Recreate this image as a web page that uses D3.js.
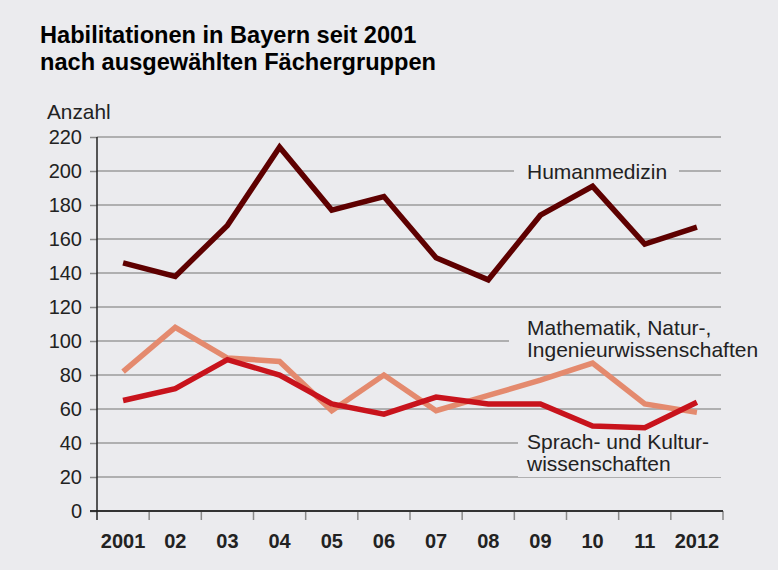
<!DOCTYPE html>
<html>
<head>
<meta charset="utf-8">
<script src="https://cdn.jsdelivr.net/npm/d3@7/dist/d3.min.js"></script>
<style>
  body { margin: 0; background: #ebebee; }
  svg { display: block; font-family: "Liberation Sans", Arial, sans-serif; }
</style>
</head>
<body>
<svg width="778" height="570"></svg>
<script>
// data
var years = ["2001", "02", "03", "04", "05", "06", "07", "08", "09", "10", "11", "2012"];
var humanmedizin = [146, 138, 168, 214, 177, 185, 149, 136, 174, 191, 157, 167];
var mathNatur = [82, 108, 90, 88, 59, 80, 59, 68, 77, 87, 63, 58];
var sprachKultur = [65, 72, 89, 80, 63, 57, 67, 63, 63, 50, 49, 64];
var yTicks = [0, 20, 40, 60, 80, 100, 120, 140, 160, 180, 200, 220];

var svg = d3.select("svg");
var bg = "#ebebee";

svg.append("rect").attr("width", 778).attr("height", 570).attr("fill", bg);

// title
var title = svg.append("text")
    .attr("x", 40).attr("y", 43)
    .style("font-size", "23.6px").style("font-weight", "bold").attr("fill", "#000");
title.append("tspan").attr("x", 40).text("Habilitationen in Bayern seit 2001");
title.append("tspan").attr("x", 40).attr("dy", 27).text("nach ausgewählten Fächergruppen");

svg.append("text").attr("x", 47).attr("y", 119)
    .style("font-size", "20.8px").attr("fill", "#222").text("Anzahl");

// scales
var x = d3.scaleBand().domain(years).range([97, 723]);
var y = d3.scaleLinear().domain([0, 220]).range([511, 137]);

// gridlines
svg.append("g")
  .selectAll("line")
  .data(yTicks.filter(function(d){ return d > 0; }))
  .enter()
  .append("line")
    .attr("x1", 97).attr("x2", 721)
    .attr("y1", function(d){ return y(d); })
    .attr("y2", function(d){ return y(d); })
    .attr("stroke", "#9b9b9b")
    .attr("stroke-width", 1.5);

// y axis
var yAxis = svg.append("g")
    .attr("transform", "translate(97,0)")
    .call(d3.axisLeft(y).tickValues(yTicks).tickSize(7).tickPadding(8));
yAxis.select(".domain").remove();
yAxis.selectAll(".tick line").attr("stroke", "#8a8a8a").attr("stroke-width", 1.5);
yAxis.selectAll("text")
    .style("font-size", "20px").style("font-family", "Liberation Sans, Arial, sans-serif")
    .attr("fill", "#222");

// x axis ticks at band edges
var edges = years.map(function(d){ return x(d); }).slice(1).concat([723]);
svg.append("g")
  .selectAll("line")
  .data(edges)
  .enter()
  .append("line")
    .attr("x1", function(d){ return d; }).attr("x2", function(d){ return d; })
    .attr("y1", 511).attr("y2", 520)
    .attr("stroke", "#8a8a8a").attr("stroke-width", 1.5);

svg.append("line").attr("x1", 90).attr("x2", 723).attr("y1", 511).attr("y2", 511)
    .attr("stroke", "#333").attr("stroke-width", 2);
svg.append("line").attr("x1", 97).attr("x2", 97).attr("y1", 137).attr("y2", 520)
    .attr("stroke", "#222").attr("stroke-width", 1.5);

svg.append("g")
  .selectAll("text")
  .data(years)
  .enter()
  .append("text")
    .attr("x", function(d){ return x(d) + x.bandwidth() / 2; })
    .attr("y", 548)
    .attr("text-anchor", "middle")
    .style("font-size", "20px").style("font-weight", "bold")
    .attr("fill", "#222")
    .text(function(d){ return d; });

// series labels with background patches over the grid
var labels = [
  {lines: ["Humanmedizin"], x: 527, y: 179, x0: 514, x1: 679},
  {lines: ["Mathematik, Natur-,", "Ingenieurwissenschaften"], x: 527, y: 335, x0: 509, x1: 778},
  {lines: ["Sprach- und Kultur-", "wissenschaften"], x: 527, y: 449, x0: 518, x1: 778}
];
labels.forEach(function(l) {
  svg.append("rect")
    .attr("x", l.x0).attr("width", l.x1 - l.x0)
    .attr("y", l.y - 17).attr("height", 22 * l.lines.length + 1)
    .attr("fill", bg);
});

var line = d3.line()
    .x(function(d, i){ return x(years[i]) + x.bandwidth() / 2; })
    .y(function(d){ return y(d); });

var series = [
  {values: mathNatur, color: "#e48a6e"},
  {values: sprachKultur, color: "#c8131c"},
  {values: humanmedizin, color: "#5e0000"}
];
svg.append("g")
  .selectAll("path")
  .data(series)
  .enter()
  .append("path")
    .attr("d", function(d){ return line(d.values); })
    .attr("fill", "none")
    .attr("stroke", function(d){ return d.color; })
    .attr("stroke-width", 5.5)
    .attr("stroke-linejoin", "miter");

labels.forEach(function(l) {
  l.lines.forEach(function(s, i) {
    svg.append("text")
      .attr("x", l.x).attr("y", l.y + i * 22)
      .style("font-size", "21px").attr("fill", "#222")
      .text(s);
  });
});
</script>
</body>
</html>
